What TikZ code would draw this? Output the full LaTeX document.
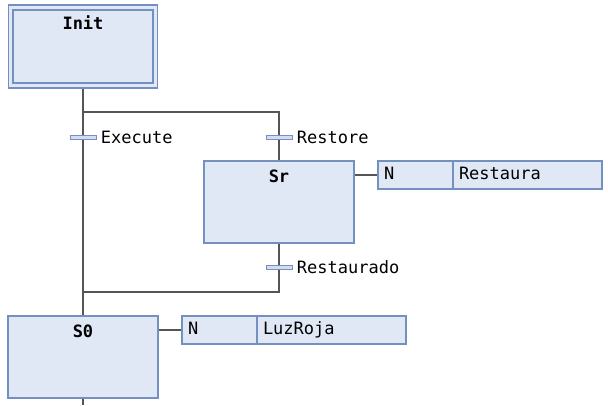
\documentclass[tikz,border=0pt]{standalone}
\usepackage{fontspec}
\setmainfont{DejaVu Sans Mono}
\setmonofont{DejaVu Sans Mono}
\usetikzlibrary{
    positioning,
    backgrounds
    }

\definecolor{stepfill}{HTML}{E0E8F5}
\definecolor{stepdraw}{HTML}{7490C0}
\definecolor{barfill}{HTML}{D3DDEF}
\definecolor{wire}{HTML}{555555}

\begin{document}
\begin{tikzpicture}[x=0.75pt, y=-0.75pt, font=\ttfamily\fontsize{12.75}{15}\selectfont]
\tikzset{stepbox/.style =
        {
            rectangle,
            draw=stepdraw,
            fill=stepfill,
            line width=0.9pt,
            minimum width=112.5pt,
            minimum height=61.5pt,
            inner sep=0pt,
            outer sep=0pt
        }
}

\tikzset{stepname/.style =
        {
            anchor=north,
            inner sep=0pt,
            yshift=-6.5pt,
            font=\ttfamily\bfseries\fontsize{12.75}{15}\selectfont
        }
}

\tikzset{qualbox/.style =
        {
            rectangle,
            draw=stepdraw,
            fill=stepfill,
            line width=0.9pt,
            text width=47.25pt,
            align=left,
            inner xsep=4.5pt,
            inner ysep=0pt,
            minimum height=21pt,
            text height=9.5pt,
            text depth=2.5pt,
            outer sep=0pt
        }
}

\tikzset{actbox/.style =
        {
            qualbox,
            text width=102.75pt
        }
}

\tikzset{trans/.style =
        {
            rectangle,
            draw=stepdraw,
            fill=barfill,
            line width=0.7pt,
            minimum width=19.5pt,
            minimum height=3pt,
            inner sep=0pt,
            outer sep=0pt
        }
}

\tikzset{trans label/.style = { inner sep=0pt, text=black, xshift=3.5pt } }

\tikzset{wire/.style = {
            line width=1pt,
            draw=wire
        }
}

\useasboundingbox (0,0) rectangle (608,405);

% initial step
\node[stepbox, minimum width=111.75pt, minimum height=62.25pt] (initouter) at (83,46.5) {};
\node[stepbox, fill=none, minimum width=105pt, minimum height=54.75pt] (init) at (83,46.5) {};
\node[stepname, yshift=-1.5pt] (initname) at (initouter.north) {Init};

\node[stepbox, label={[stepname]north:Sr}] (sr) at (279,202) {};
\node[stepbox, label={[stepname]north:S0}] (s0) at (83,357) {};

\node[trans, label={[trans label]right:Execute}] (execute) at (83,137) {};
\node[trans, label={[trans label]right:Restore}] (restore) at (279,137) {};
\node[trans, label={[trans label]right:Restaurado}] (restaurado) at (279,267) {};

\node[qualbox, below right=0pt and 18pt of sr.north east] (qr) {N};
\node[actbox, right=0pt of qr] (ar) {Restaura};

\node[qualbox, below right=0pt and 18pt of s0.north east] (q0) {N};
\node[actbox, right=0pt of q0] (a0) {LuzRoja};

\coordinate (fork) at (83,112);
\coordinate (merge) at (83,292);
\coordinate (tail) at (83,405);

\begin{scope}[on background layer]
    \draw[wire] (initouter.south) -- (s0.north);
    \draw[wire] (fork) -| (restore) -- (sr);
    \draw[wire] (sr) -- (restaurado) |- (merge);
    \draw[wire] (s0.south) -- (tail);
    \draw[wire] (sr.east |- qr.west) -- (qr.west);
    \draw[wire] (s0.east |- q0.west) -- (q0.west);
\end{scope}

\end{tikzpicture}
\end{document}
